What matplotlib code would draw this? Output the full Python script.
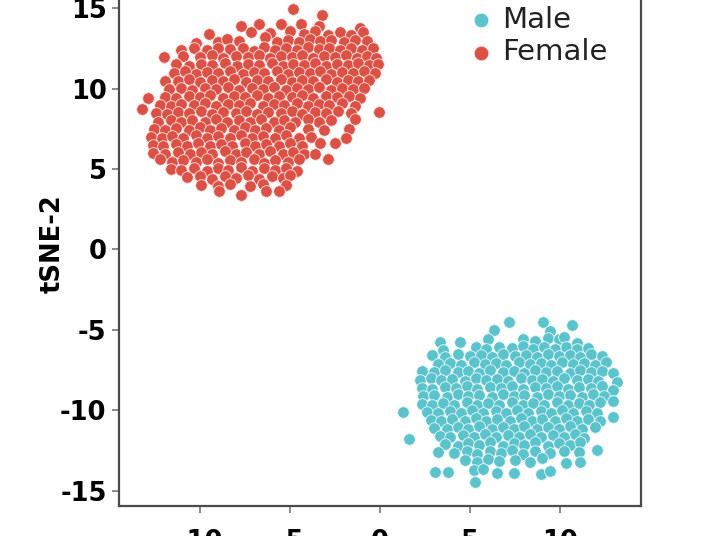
import matplotlib
matplotlib.use("Agg")
import matplotlib.pyplot as plt
import numpy as np

# ---------------- data ----------------
female_pts = [
    (-4.84, 14.93), (-3.23, 14.56),
    (-7.72, 13.90), (-6.69, 14.02), (-5.48, 14.02), (-4.38, 14.02), (-3.36, 13.86), (-1.11, 13.76),
    (-9.46, 13.38), (-7.17, 13.50), (-6.10, 13.45), (-5.00, 13.55), (-4.20, 13.40), (-3.60, 13.60),
    (-2.90, 13.30), (-2.20, 13.50), (-1.60, 13.35), (-0.95, 13.50),
    (-10.19, 12.86), (-8.96, 12.92), (-8.49, 13.07), (-7.80, 12.95), (-6.37, 13.19), (-5.70, 12.90),
    (-5.10, 13.05), (-4.50, 12.90), (-3.90, 13.10), (-3.30, 12.95), (-2.70, 13.05), (-2.00, 12.90),
    (-1.40, 13.00), (-0.70, 12.95),
    (-11.02, 12.41), (-10.30, 12.50), (-9.60, 12.40), (-9.00, 12.55), (-8.30, 12.45), (-7.60, 12.50),
    (-7.00, 12.35), (-6.40, 12.60), (-5.80, 12.40), (-5.20, 12.55), (-4.60, 12.40), (-4.00, 12.60),
    (-3.40, 12.45), (-2.80, 12.55), (-2.20, 12.40), (-1.60, 12.55), (-1.00, 12.40), (-0.40, 12.50),
    (-11.95, 11.95), (-10.90, 12.05), (-10.00, 11.95), (-9.30, 12.10), (-8.70, 11.90), (-8.00, 12.05),
    (-7.30, 11.95), (-6.70, 12.10), (-6.10, 11.90), (-5.50, 12.05), (-4.90, 11.95), (-4.30, 12.10),
    (-3.70, 11.90), (-3.10, 12.05), (-2.50, 11.95), (-1.90, 12.10), (-1.30, 11.90), (-0.70, 12.05),
    (-0.20, 11.90),
    (-11.30, 11.50), (-10.60, 11.40), (-9.90, 11.55), (-9.30, 11.45), (-8.60, 11.60), (-7.90, 11.40),
    (-7.30, 11.55), (-6.70, 11.45), (-6.00, 11.60), (-5.40, 11.40), (-4.80, 11.55), (-4.20, 11.45),
    (-3.60, 11.60), (-3.00, 11.40), (-2.40, 11.55), (-1.80, 11.45), (-1.20, 11.60), (-0.60, 11.45),
    (-0.10, 11.55),
    (-11.40, 10.95), (-10.80, 11.10), (-10.20, 10.90), (-9.60, 11.05), (-9.00, 10.95), (-8.30, 11.10),
    (-7.60, 10.90), (-7.00, 11.05), (-6.40, 10.95), (-5.70, 11.10), (-5.10, 10.90), (-4.50, 11.05),
    (-3.90, 10.95), (-3.30, 11.10), (-2.70, 10.90), (-2.10, 11.05), (-1.50, 10.95), (-0.90, 11.10),
    (-0.30, 10.95),
    (-11.90, 10.50), (-11.20, 10.45), (-10.60, 10.60), (-10.00, 10.40), (-9.30, 10.55), (-8.70, 10.45),
    (-8.10, 10.60), (-7.40, 10.40), (-6.80, 10.55), (-6.20, 10.45), (-5.50, 10.60), (-4.90, 10.40),
    (-4.30, 10.55), (-3.70, 10.45), (-3.00, 10.60), (-2.40, 10.40), (-1.80, 10.55), (-1.20, 10.45),
    (-0.60, 10.55),
    (-11.70, 9.95), (-11.00, 10.05), (-10.40, 9.90), (-9.70, 10.05), (-9.10, 9.95), (-8.40, 10.10),
    (-7.80, 9.90), (-7.10, 10.05), (-6.50, 9.95), (-5.90, 10.10), (-5.20, 9.90), (-4.60, 10.05),
    (-4.00, 9.95), (-3.40, 10.10), (-2.70, 9.90), (-2.10, 10.05), (-1.50, 9.95), (-0.90, 10.05),
    (-12.84, 9.44), (-11.90, 9.50), (-11.30, 9.40), (-10.60, 9.55), (-10.00, 9.45), (-9.40, 9.60),
    (-8.70, 9.40), (-8.10, 9.55), (-7.50, 9.45), (-6.80, 9.60), (-6.20, 9.40), (-5.60, 9.55),
    (-4.90, 9.45), (-4.30, 9.60), (-3.70, 9.40), (-3.00, 9.55), (-2.40, 9.45), (-1.70, 9.55),
    (-1.10, 9.40),
    (-12.20, 9.00), (-11.60, 8.90), (-11.00, 9.05), (-10.30, 8.95), (-9.70, 9.10), (-9.10, 8.90),
    (-8.40, 9.05), (-7.80, 8.95), (-7.20, 9.10), (-6.50, 8.90), (-5.90, 9.05), (-5.30, 8.95),
    (-4.60, 9.10), (-4.00, 8.90), (-3.40, 9.05), (-2.80, 8.95), (-2.10, 9.10), (-1.40, 8.90),
    (-13.17, 8.74), (-12.40, 8.50), (-11.80, 8.40), (-11.20, 8.55), (-10.60, 8.45), (-9.90, 8.60),
    (-9.30, 8.40), (-8.70, 8.55), (-8.00, 8.45), (-7.40, 8.60), (-6.80, 8.40), (-6.20, 8.55),
    (-5.50, 8.45), (-4.90, 8.60), (-4.30, 8.40), (-3.60, 8.55), (-3.00, 8.45), (-2.30, 8.60),
    (-1.60, 8.45), (-0.06, 8.55),
    (-12.30, 7.95), (-11.60, 8.05), (-11.00, 7.90), (-10.40, 8.05), (-9.70, 7.95), (-9.10, 8.10),
    (-8.50, 7.90), (-7.80, 8.05), (-7.20, 7.95), (-6.60, 8.10), (-5.90, 7.90), (-5.30, 8.05),
    (-4.70, 7.95), (-4.00, 8.10), (-3.40, 7.90), (-2.70, 8.05), (-1.40, 8.10),
    (-12.50, 7.50), (-11.90, 7.40), (-11.30, 7.55), (-10.60, 7.45), (-10.00, 7.60), (-9.40, 7.40),
    (-8.80, 7.55), (-8.10, 7.45), (-7.50, 7.60), (-6.90, 7.40), (-6.30, 7.55), (-5.60, 7.45),
    (-5.00, 7.60), (-4.00, 7.50), (-3.10, 7.40), (-1.70, 7.50),
    (-12.70, 7.00), (-12.10, 6.90), (-11.50, 7.05), (-10.90, 6.95), (-10.20, 7.10), (-9.60, 6.90),
    (-9.00, 7.05), (-8.30, 6.95), (-7.70, 7.10), (-7.10, 6.90), (-6.50, 7.05), (-5.80, 6.95),
    (-5.20, 7.10), (-4.50, 6.90), (-3.80, 7.00), (-1.90, 6.90),
    (-12.60, 6.50), (-12.00, 6.40), (-11.30, 6.55), (-10.70, 6.45), (-10.10, 6.60), (-9.40, 6.40),
    (-8.80, 6.55), (-8.20, 6.45), (-7.50, 6.60), (-6.90, 6.40), (-6.30, 6.55), (-5.60, 6.45),
    (-5.00, 6.60), (-4.30, 6.40), (-3.30, 6.60), (-2.50, 6.60),
    (-12.60, 6.00), (-11.90, 5.95), (-11.20, 6.05), (-10.50, 5.90), (-9.90, 6.05), (-9.30, 5.95),
    (-8.60, 6.10), (-8.00, 5.90), (-7.40, 6.05), (-6.70, 5.95), (-6.10, 6.10), (-5.40, 5.90),
    (-4.80, 6.05), (-4.20, 5.90), (-3.60, 5.90),
    (-12.20, 5.60), (-11.50, 5.45), (-10.90, 5.55), (-10.20, 5.45), (-9.60, 5.60), (-9.00, 5.40),
    (-8.30, 5.55), (-7.70, 5.45), (-7.00, 5.60), (-6.40, 5.40), (-5.80, 5.55), (-5.10, 5.45),
    (-4.50, 5.60), (-2.90, 5.63),
    (-11.60, 5.00), (-11.00, 4.95), (-10.30, 5.05), (-9.60, 4.90), (-9.00, 5.05), (-8.40, 4.95),
    (-7.70, 5.10), (-7.10, 4.90), (-6.40, 5.05), (-5.80, 4.95), (-5.20, 5.05), (-4.60, 4.90),
    (-10.70, 4.50), (-10.00, 4.55), (-9.30, 4.40), (-8.60, 4.55), (-8.00, 4.45), (-7.30, 4.60),
    (-6.70, 4.40), (-6.00, 4.55), (-5.40, 4.45), (-5.00, 4.60),
    (-9.90, 4.00), (-9.00, 3.95), (-8.30, 4.05), (-7.20, 3.95), (-6.50, 4.05), (-5.20, 4.00),
    (-8.90, 3.65), (-7.72, 3.39), (-6.30, 3.60), (-5.60, 3.65),
]

male_pts = [
    (7.13, -4.51), (9.05, -4.49), (10.62, -4.72),
    (6.32, -5.00), (9.40, -5.10),
    (3.32, -5.79), (4.43, -5.79), (6.00, -5.60), (7.94, -5.58), (8.60, -5.70), (9.30, -5.50),
    (9.90, -5.60), (10.20, -5.45), (10.90, -5.80),
    (3.51, -6.25), (5.30, -6.10), (5.90, -6.20), (6.60, -6.05), (7.30, -6.15), (7.90, -6.00),
    (8.50, -6.20), (9.10, -6.05), (9.70, -6.20), (10.30, -6.05), (10.90, -6.20), (11.50, -6.15),
    (2.90, -6.60), (3.60, -6.70), (4.30, -6.50), (5.00, -6.65), (5.60, -6.55), (6.20, -6.70),
    (6.80, -6.50), (7.50, -6.65), (8.10, -6.55), (8.70, -6.70), (9.30, -6.50), (9.90, -6.65),
    (10.50, -6.55), (11.10, -6.70), (11.70, -6.50), (12.30, -6.65),
    (3.20, -7.10), (3.90, -7.05), (4.50, -7.20), (5.20, -7.00), (5.80, -7.15), (6.40, -7.05),
    (7.00, -7.20), (7.70, -7.00), (8.30, -7.15), (8.90, -7.05), (9.50, -7.20), (10.10, -7.00),
    (10.70, -7.15), (11.30, -7.05), (11.90, -7.20), (12.50, -7.00),
    (2.30, -7.55), (3.00, -7.65), (3.60, -7.50), (4.30, -7.65), (4.90, -7.55), (5.50, -7.70),
    (6.10, -7.50), (6.80, -7.65), (7.40, -7.55), (8.00, -7.70), (8.60, -7.50), (9.20, -7.65),
    (9.80, -7.55), (10.50, -7.70), (11.10, -7.50), (11.70, -7.65), (12.30, -7.55), (12.90, -7.70),
    (2.20, -8.10), (2.80, -8.00), (3.40, -8.15), (4.00, -8.05), (4.70, -8.20), (5.30, -8.00),
    (5.90, -8.15), (6.50, -8.05), (7.10, -8.20), (7.80, -8.00), (8.40, -8.15), (9.00, -8.05),
    (9.60, -8.20), (10.20, -8.00), (10.90, -8.15), (11.50, -8.05), (12.10, -8.20), (13.11, -8.28),
    (2.30, -8.60), (2.90, -8.70), (3.60, -8.55), (4.20, -8.65), (4.80, -8.50), (5.40, -8.70),
    (6.10, -8.55), (6.70, -8.65), (7.30, -8.50), (7.90, -8.70), (8.60, -8.55), (9.20, -8.65),
    (9.80, -8.50), (10.40, -8.70), (11.00, -8.55), (11.70, -8.65), (12.30, -8.50), (12.90, -8.75),
    (2.40, -9.10), (3.00, -9.05), (3.70, -9.20), (4.30, -9.00), (4.90, -9.15), (5.50, -9.05),
    (6.20, -9.20), (6.80, -9.00), (7.40, -9.15), (8.00, -9.05), (8.70, -9.20), (9.30, -9.00),
    (9.90, -9.15), (10.50, -9.05), (11.20, -9.20), (11.80, -9.00), (12.40, -9.15),
    (2.30, -9.60), (2.90, -9.70), (3.50, -9.55), (4.10, -9.65), (4.80, -9.50), (5.40, -9.70),
    (6.00, -9.55), (6.60, -9.65), (7.30, -9.50), (7.90, -9.70), (8.50, -9.55), (9.10, -9.65),
    (9.80, -9.50), (10.40, -9.70), (11.00, -9.55), (11.60, -9.65), (12.20, -9.50), (12.93, -9.46),
    (1.29, -10.09), (2.60, -10.10), (3.20, -10.20), (3.90, -10.05), (4.50, -10.15), (5.10, -10.00),
    (5.70, -10.20), (6.40, -10.05), (7.00, -10.15), (7.60, -10.00), (8.20, -10.20), (8.90, -10.05),
    (9.50, -10.15), (10.10, -10.00), (10.70, -10.20), (11.40, -10.05), (12.00, -10.15), (12.93, -10.40),
    (2.80, -10.60), (3.40, -10.70), (4.00, -10.55), (4.70, -10.65), (5.30, -10.50), (5.90, -10.70),
    (6.50, -10.55), (7.20, -10.65), (7.80, -10.50), (8.40, -10.70), (9.00, -10.55), (9.70, -10.65),
    (10.30, -10.50), (10.90, -10.70), (11.50, -10.55), (12.20, -10.65),
    (3.00, -11.10), (3.70, -11.20), (4.30, -11.05), (4.90, -11.15), (5.50, -11.00), (6.20, -11.20),
    (6.80, -11.05), (7.40, -11.15), (8.00, -11.00), (8.70, -11.20), (9.30, -11.05), (9.90, -11.15),
    (10.50, -11.00), (11.20, -11.20), (11.90, -11.05),
    (1.63, -11.80), (3.30, -11.60), (3.90, -11.70), (4.60, -11.55), (5.20, -11.65), (5.80, -11.50),
    (6.40, -11.70), (7.10, -11.55), (7.70, -11.65), (8.30, -11.50), (8.90, -11.70), (9.60, -11.55),
    (10.20, -11.65), (10.80, -11.50), (11.30, -11.75),
    (3.60, -12.10), (4.30, -12.20), (4.90, -12.05), (5.50, -12.15), (6.10, -12.00), (6.80, -12.20),
    (7.40, -12.05), (8.00, -12.15), (8.60, -12.00), (9.30, -12.20), (9.90, -12.05), (10.50, -12.15),
    (11.10, -12.00), (12.04, -12.47),
    (3.20, -12.60), (4.10, -12.65), (4.80, -12.55), (5.40, -12.70), (6.10, -12.55), (6.70, -12.65),
    (7.30, -12.50), (7.90, -12.70), (8.60, -12.55), (9.40, -12.65), (10.20, -12.55), (11.00, -12.60),
    (4.70, -13.10), (5.40, -13.20), (6.00, -13.05), (6.60, -13.15), (7.50, -13.10), (8.30, -13.20),
    (9.00, -13.00), (10.30, -13.30), (11.10, -13.25),
    (3.05, -13.82), (3.79, -13.82), (5.20, -13.70), (5.70, -13.65), (6.50, -13.90), (7.40, -13.90),
    (8.90, -14.00), (9.40, -13.80),
    (5.26, -14.44),
]

group_labels = ["Male", "Female"]
group_colors = ["#5BC3CC", "#DC5146"]
x_ticks = [-10, -5, 0, 5, 10]
y_ticks = [-15, -10, -5, 0, 5, 10, 15]
y_label = "tSNE-2"

# ---------------- figure ----------------
plt.rcParams["font.family"] = ["DejaVu Sans"]
W, H = 725, 536
fig = plt.figure(figsize=(W / 100, H / 100), dpi=100)

xlim = (-14.46, 14.46)
ylim = (-15.93, 17.0)
px_per_y = 16.08
ax_h = (ylim[1] - ylim[0]) * px_per_y
ax = fig.add_axes([119 / W, 30.5 / H, 522 / W, ax_h / H])

mx, my = zip(*male_pts)
fx, fy = zip(*female_pts)
ax.scatter(mx, my, s=70, c=group_colors[0], edgecolors="#EAF7F8", linewidths=0.6,
           label=group_labels[0], zorder=3)
ax.scatter(fx, fy, s=70, c=group_colors[1], edgecolors="#FBE3E1", linewidths=0.6,
           label=group_labels[1], zorder=3)

ax.set_xlim(*xlim)
ax.set_ylim(*ylim)
ax.set_xticks(x_ticks)
ax.set_yticks(y_ticks)
ax.set_xticklabels([str(t) for t in x_ticks])
ax.set_yticklabels([str(t) for t in y_ticks])

spine_col = "#4a4a4a"
for name, sp in ax.spines.items():
    sp.set_color(spine_col)
    sp.set_linewidth(1.6)
ax.spines["top"].set_visible(False)

ax.tick_params(axis="both", direction="out", length=5, width=1.2, color="#777777",
               labelsize=18.5, labelcolor="black")
ax.tick_params(axis="x", pad=12)
ax.tick_params(axis="y", pad=4)
for lab in ax.get_xticklabels() + ax.get_yticklabels():
    lab.set_fontweight("bold")

fig.text(53 / W, 1 - 243.5 / H, y_label, rotation=90, ha="center", va="center",
         fontsize=18.5, fontweight="bold")

leg = ax.legend(loc="upper left", bbox_to_anchor=(466 / W, 1 - 6 / H),
                bbox_transform=fig.transFigure, frameon=False, fontsize=21,
                borderpad=0, handlelength=1.0, handletextpad=0.25, labelspacing=0.15,
                markerscale=1.25, borderaxespad=0)
for t in leg.get_texts():
    t.set_color("#222222")

fig.savefig("out.png", dpi=100)
